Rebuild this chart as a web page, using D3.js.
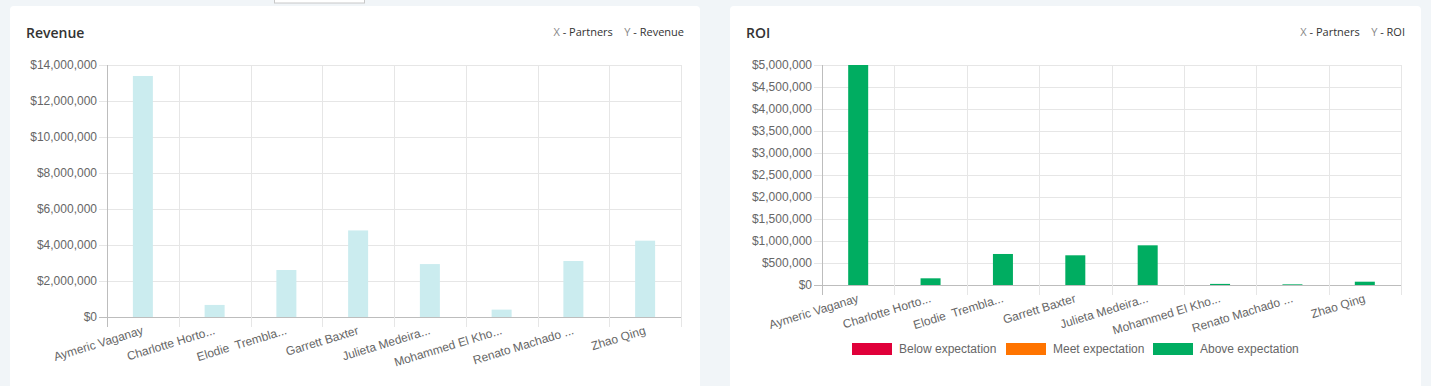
<!DOCTYPE html>
<html><head><meta charset="utf-8">
<script src="https://cdn.jsdelivr.net/npm/d3@7"></script>
<style>
html,body{margin:0;padding:0;background:#f1f5f8;}
svg{display:block;}
</style></head>
<body>
<svg id="c" width="1431" height="386"></svg>
<script>
const partners = ["Aymeric Vaganay", "Charlotte Horto...", "Elodie  Trembla...", "Garrett Baxter", "Julieta Medeira...", "Mohammed El Kho...", "Renato Machado ...", "Zhao Qing"];
const revenue = [13390000, 670000, 2610000, 4810000, 2940000, 410000, 3110000, 4240000];
const roi = [5000000, 152000, 705000, 675000, 902000, 25000, 15000, 75000];
const roiStatus = ["Above expectation","Above expectation","Above expectation","Above expectation","Above expectation","Above expectation","Above expectation","Above expectation"];
const revenueTicks = [0, 2000000, 4000000, 6000000, 8000000, 10000000, 12000000, 14000000];
const roiTicks = [0, 500000, 1000000, 1500000, 2000000, 2500000, 3000000, 3500000, 4000000, 4500000, 5000000];
const legendLabels = ["Below expectation", "Meet expectation", "Above expectation"];
const legendColors = ["#e0003a", "#ff7400", "#00ad61"];

const svg = d3.select("#c");
const fmt = d3.format("$,");
const tickFont = "'Liberation Sans', Arial, sans-serif";
const titleFont = "'Open Sans', 'Noto Sans', sans-serif";

// top decoration box
svg.append("rect").attr("x",274.5).attr("y",-2).attr("width",90).attr("height",5)
  .attr("fill","#fff").attr("stroke","#c8c8c8");

function panel(cfg){
  const g = svg.append("g");
  g.append("rect").attr("x",cfg.cardX).attr("y",6).attr("width",cfg.cardW).attr("height",384)
    .attr("rx",4).attr("fill","#fff");
  g.append("text").attr("x",cfg.cardX+16).attr("y",38).text(cfg.title)
    .attr("font-family",titleFont).attr("font-weight",600).attr("font-size",14).attr("fill","#333");
  // axis titles
  const at = g.append("text").attr("x",cfg.cardX+cfg.cardW-16).attr("y",36).attr("text-anchor","end")
    .attr("font-family",titleFont).attr("font-size",11).style("white-space","pre");
  at.append("tspan").attr("fill","#888").text("X");
  at.append("tspan").attr("fill","#333").text(" - Partners    ");
  at.append("tspan").attr("fill","#888").text("Y");
  at.append("tspan").attr("fill","#333").text(" - " + cfg.yName);

  const x = d3.scaleBand().domain(partners).range([cfg.x0, cfg.x1]);
  const y = d3.scaleLinear().domain([0, cfg.max]).range([cfg.y0, cfg.y1]);

  // horizontal grid
  g.selectAll(".hg").data(cfg.ticks).join("line")
    .attr("x1",cfg.x0-8).attr("x2",cfg.x1)
    .attr("y1",d=>Math.round(y(d))+0.5).attr("y2",d=>Math.round(y(d))+0.5)
    .attr("stroke",d=>d===0?"#bdbdbd":"#e6e6e6");
  // vertical grid
  const vx = partners.map(p=>x(p)).concat([cfg.x1]);
  g.selectAll(".vg").data(vx).join("line")
    .attr("x1",d=>Math.round(d)+0.5).attr("x2",d=>Math.round(d)+0.5)
    .attr("y1",cfg.y1).attr("y2",cfg.y0+10)
    .attr("stroke",(d,i)=>i===0?"#bdbdbd":"#e6e6e6");
  // y tick labels
  g.selectAll(".yl").data(cfg.ticks).join("text")
    .attr("x",cfg.x0-10).attr("y",d=>y(d)).attr("dy","0.35em").attr("text-anchor","end")
    .attr("font-family",tickFont).attr("font-size",12).attr("fill","#666").text(d=>fmt(d));
  // bars
  const bw = 20;
  g.selectAll(".bar").data(cfg.values).join("rect")
    .attr("x",(d,i)=>x(partners[i])+x.bandwidth()/2-bw/2)
    .attr("width",bw)
    .attr("y",d=>y(Math.min(d,cfg.max)))
    .attr("height",d=>y(0)-y(Math.min(d,cfg.max)))
    .attr("fill",(d,i)=>cfg.color(i));
  // x labels
  g.selectAll(".xl").data(partners).join("text")
    .attr("transform",d=>`translate(${x(d)+x.bandwidth()/2},${cfg.y0+13}) rotate(-17)`)
    .attr("text-anchor","end").attr("dominant-baseline","central")
    .style("white-space","pre")
    .attr("font-family",tickFont).attr("font-size",12).attr("fill","#666").text(d=>d);
  return g;
}

panel({cardX:10, cardW:690, title:"Revenue", yName:"Revenue", x0:107, x1:681, y0:317, y1:65,
  max:14000000, ticks:revenueTicks, values:revenue, color:()=>"#cbecef"});

const rg = panel({cardX:730, cardW:691, title:"ROI", yName:"ROI", x0:822, x1:1401, y0:285, y1:65,
  max:5000000, ticks:roiTicks, values:roi, color:i=>legendColors[legendLabels.indexOf(roiStatus[i])]});

// legend
const legX = [852, 1006, 1153];
legendLabels.forEach((l,i)=>{
  rg.append("rect").attr("x",legX[i]).attr("y",343).attr("width",40).attr("height",12)
    .attr("fill",legendColors[i]);
  rg.append("text").attr("x",legX[i]+47).attr("y",349).attr("dy","0.35em")
    .attr("font-family",tickFont).attr("font-size",12).attr("fill","#666").text(l);
});
</script>
</body></html>
